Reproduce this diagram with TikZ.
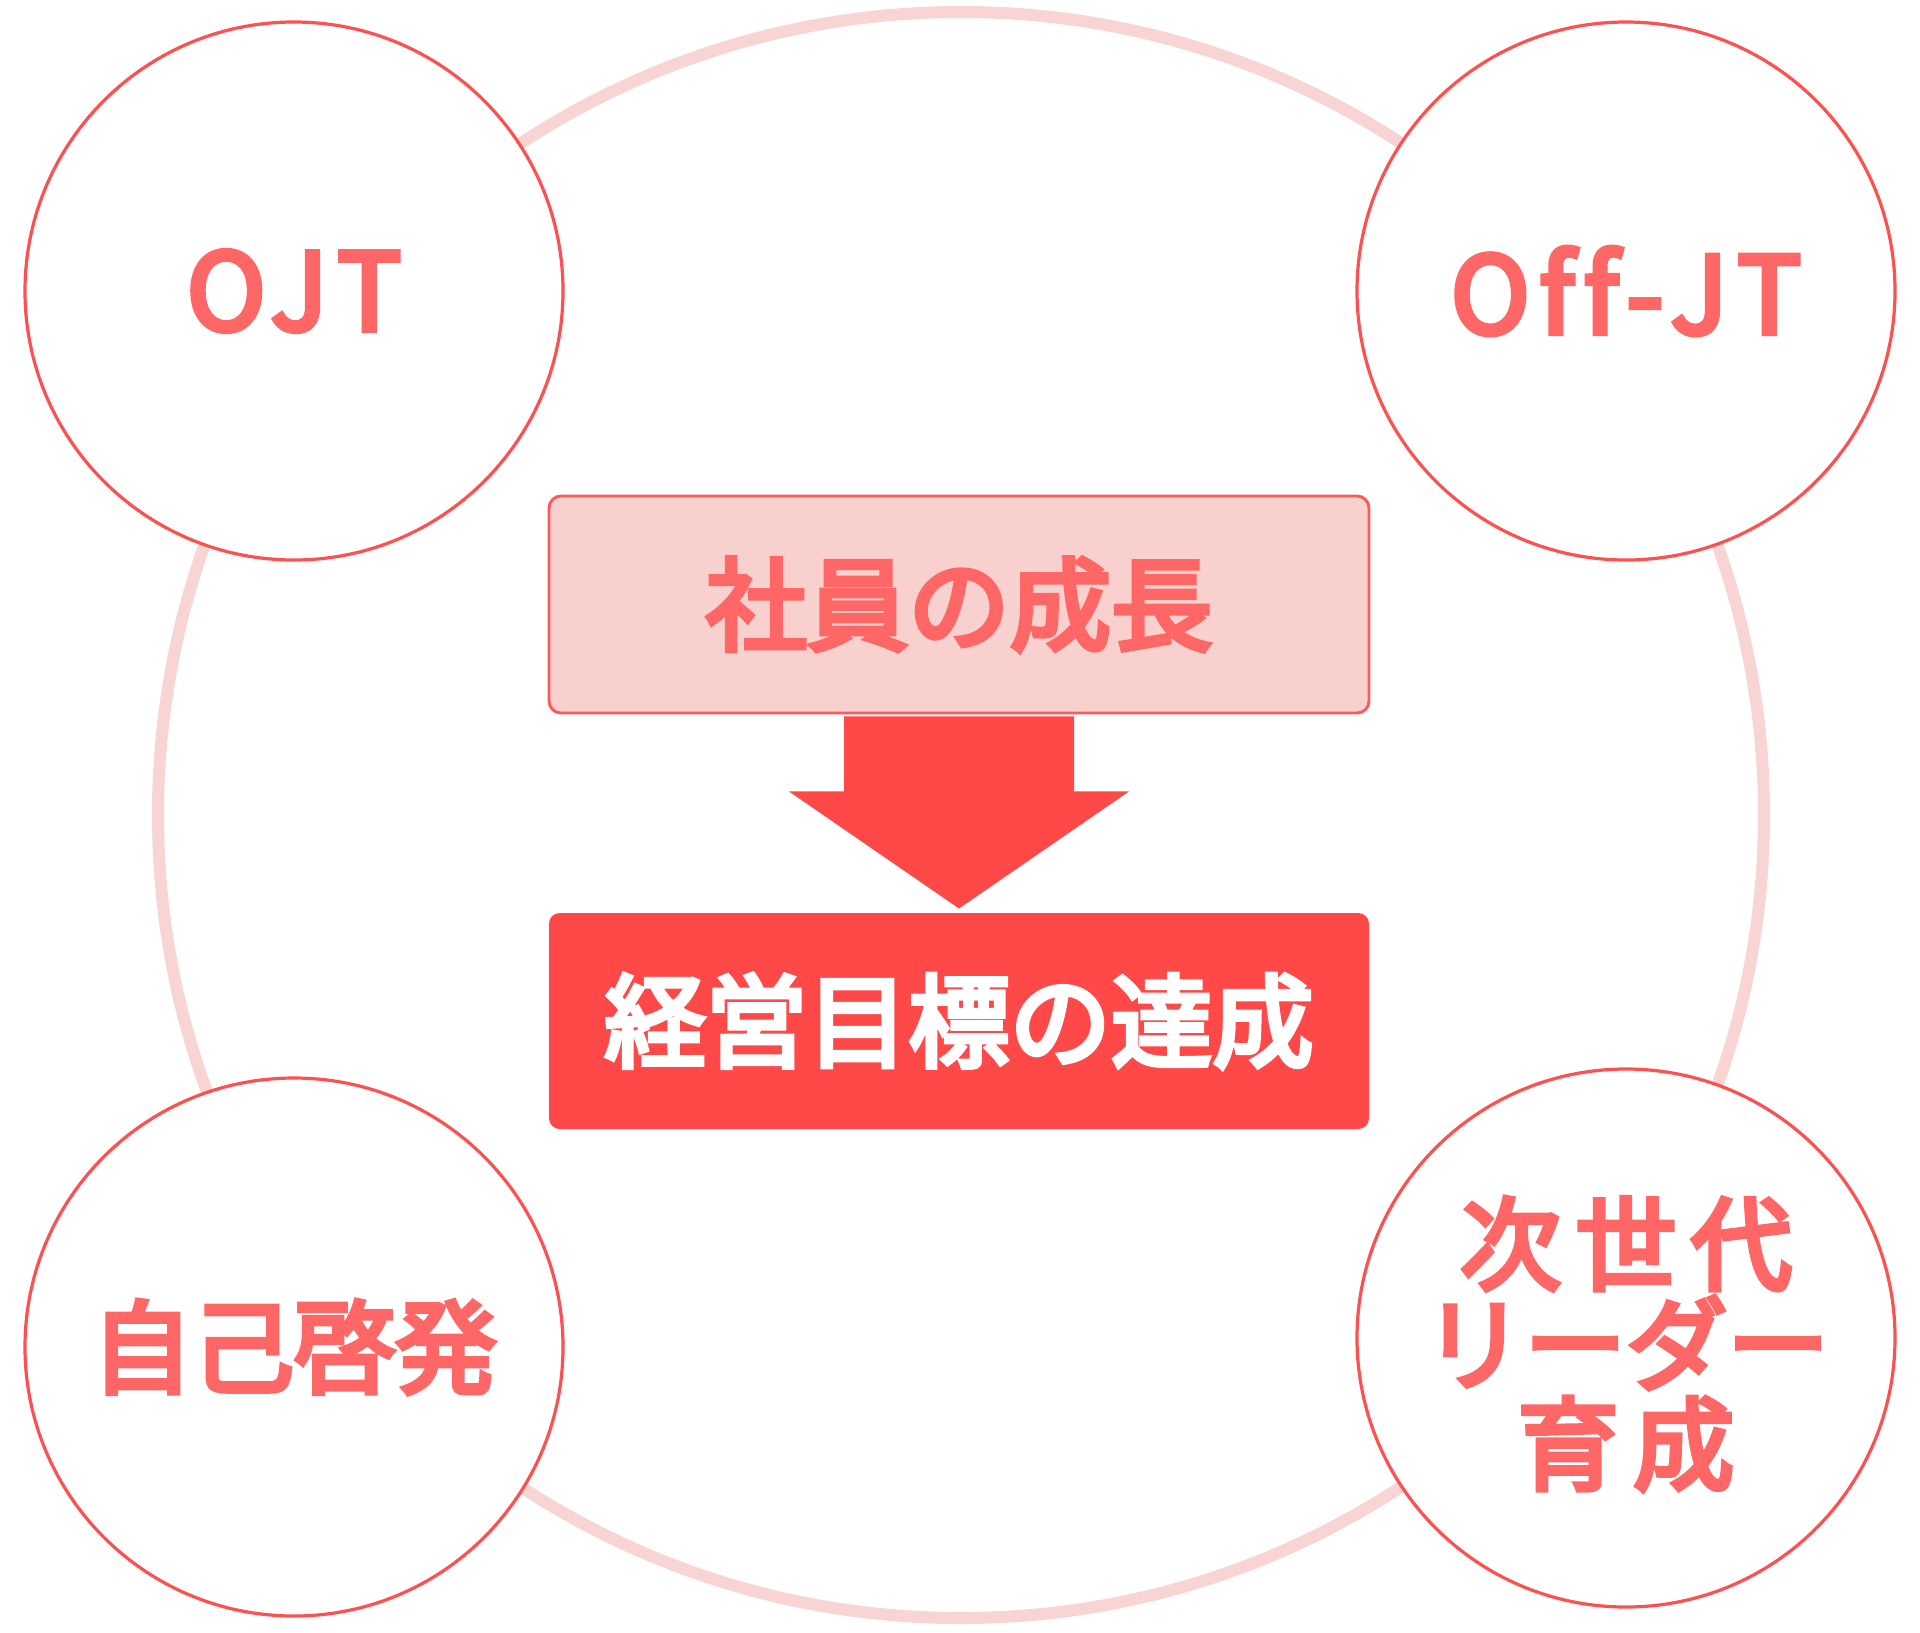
\documentclass[tikz,border=0pt]{standalone}
\usepackage{fontspec}
\setmainfont{Noto Sans CJK JP}[FakeBold=5]
\usetikzlibrary{calc}

\definecolor{ringpink}{HTML}{F8D4D2}
\definecolor{circred}{HTML}{FF5050}
\definecolor{textred}{HTML}{FF6767}
\definecolor{boxpink}{HTML}{F8D0CE}
\definecolor{boxline}{HTML}{FF5A5A}
\definecolor{goalred}{HTML}{FF4848}

\newcommand{\bigjp}{\fontsize{76}{76}\selectfont}
\newcommand{\biglat}{\fontsize{80}{80}\selectfont\addfontfeature{LetterSpace=9,Ligatures=NoCommon}}
\newcommand{\widejp}{\addfontfeature{LetterSpace=14}}

\tikzset{every picture/.style={line width=0.75pt}}

\begin{document}
\begin{tikzpicture}[x=0.75pt,y=0.75pt,yscale=-1,xscale=1,
	bubble/.style={circle,draw=circred,fill=white,line width=2.4pt,minimum size=403.5pt,inner sep=0pt,text=textred,align=center},
	growthbox/.style={rectangle,rounded corners=9pt,draw=boxline,fill=boxpink,line width=2.2pt,minimum width=615pt,minimum height=162.75pt,text=textred,font=\bigjp},
	goalbox/.style={rectangle,rounded corners=8pt,fill=goalred,minimum width=615pt,minimum height=162pt,text=white,font=\bigjp}]
			\useasboundingbox (0,0) rectangle (1920,1632);
			
			%Shape: Circle [ring]
			\draw  [color=ringpink, line width=9]  (961,815) circle (803) ;
			
			%Shape: Circle [OJT]
			\node [bubble, font=\biglat] (ojt) at (294,291) {OJT};
			%Shape: Circle [Off-JT]
			\node [bubble, font=\biglat] (offjt) at (1626,291) {Off-JT};
			%Shape: Circle [self]
			\node [bubble, font=\bigjp] (selfdev) at (294,1347) {自己啓発};
			%Shape: Circle [leader]
			\node [bubble] (leader) at (1626,1338) {};
			% Text Node
			\node [font=\bigjp, text=textred, align=center, inner sep=0pt, execute at begin node=\setlength{\baselineskip}{75pt}] (leadertext) at ($(leader)+(0,6)$) {{\widejp 次世代}\\リーダー\\{\widejp 育成}};
			
			%Shape: Rectangle [growth]
			\node [growthbox] (growth) at (959,604.5) {社員の成長};
			%Shape: Rectangle [goal]
			\node [goalbox] (goal) at (959,1021) {経営目標の達成};
			
			%Shape: Down Arrow [growth -> goal]
			\fill [goalred]  ($(growth.south)+(-115,2)$) -- ($(growth.south)+(115,2)$) -- ($(growth.south)+(115,77)$) -- ($(growth.south)+(170,77)$) -- ($(goal.north)+(0,-4)$) -- ($(growth.south)+(-170,77)$) -- ($(growth.south)+(-115,77)$) -- cycle ;
		\end{tikzpicture}
\end{document}
